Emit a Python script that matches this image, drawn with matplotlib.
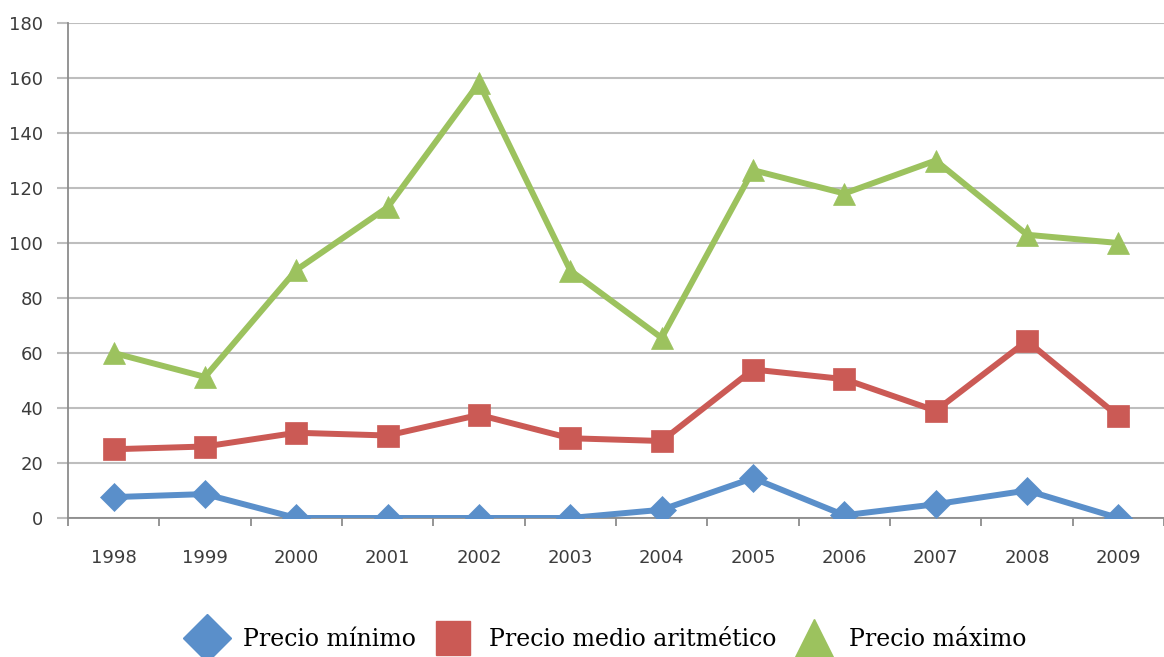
import matplotlib

matplotlib.use("Agg")

import matplotlib.pyplot as plt
from matplotlib.lines import Line2D

years = ["1998", "1999", "2000", "2001", "2002", "2003",
         "2004", "2005", "2006", "2007", "2008", "2009"]
precio_minimo = [7.6, 8.7, 0, 0, 0, 0, 3, 14.5, 1, 5, 10, 0]
precio_medio = [25, 26, 31, 30, 37.5, 29, 28, 54, 50.5, 39, 64.4, 37]
precio_maximo = [60, 51.3, 90.2, 113, 158.2, 90, 65.5, 126.5, 118, 130, 103, 100]

series_names = ["Precio mínimo", "Precio medio aritmético", "Precio máximo"]
colors = ["#5A8FCA", "#CB5A55", "#9CC25E"]
markers = ["D", "s", "^"]

fig = plt.figure(figsize=(11.64, 6.57), dpi=100)
ax = fig.add_axes([68 / 1164, 139 / 657, 1096 / 1164, 495 / 657])

x = list(range(len(years)))
for vals, col, mk, ms in zip(
    [precio_minimo, precio_medio, precio_maximo], colors, markers, [14, 16, 16]
):
    ax.plot(x, vals, color=col, linewidth=4.3, marker=mk, markersize=ms,
            markeredgecolor=col, markeredgewidth=0.5, solid_joinstyle="miter",
            zorder=3)

ax.set_xlim(-0.5, 11.4)
ax.set_ylim(0, 180)
ax.set_yticks(range(0, 181, 20))
ax.set_xticks(x)
ax.set_xticklabels(years)
ax.set_xticks([i + 0.5 for i in range(-1, 12)], minor=True)

ax.grid(axis="y", color="#BEBEBE", linewidth=1.5)
ax.set_axisbelow(True)
for side in ["top", "right"]:
    ax.spines[side].set_visible(False)
ax.spines["left"].set_color("#8C8C8C")
ax.spines["bottom"].set_color("#8C8C8C")
ax.spines["left"].set_linewidth(1.3)
ax.spines["bottom"].set_linewidth(1.3)

ax.tick_params(axis="y", length=8, color="#BEBEBE", width=1.5,
               labelsize=13, labelcolor="#3C3C3C", pad=10)
ax.tick_params(axis="x", which="major", length=0, labelsize=13,
               labelcolor="#3C3C3C", pad=22)
ax.tick_params(axis="x", which="minor", length=6, color="#8C8C8C", width=1.3)

handles = [
    Line2D([], [], linestyle="none", marker=m, color=c, markersize=s)
    for m, c, s in zip(markers, colors, [24, 24, 28])
]
fig.legend(handles, series_names, loc="center", bbox_to_anchor=(0.52, 0.026),
           ncol=3, frameon=False, handletextpad=0.5, columnspacing=0.6,
           prop={"family": "DejaVu Serif", "size": 17})

fig.savefig("out.png", dpi=100)
